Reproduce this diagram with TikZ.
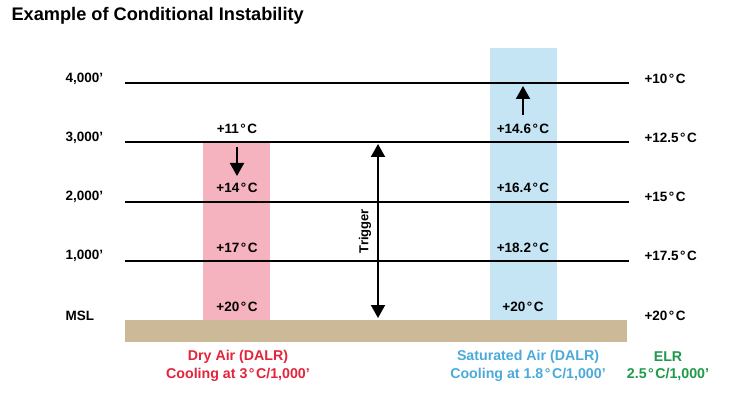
\documentclass[tikz,border=0pt]{standalone}
\usepackage{fontspec}
\setmainfont{Liberation Sans}
\usetikzlibrary{arrows.meta}
\definecolor{pinkcol}{HTML}{F4B3BE}
\definecolor{bluecol}{HTML}{C6E5F4}
\definecolor{groundcol}{HTML}{CBB997}
\definecolor{redtxt}{HTML}{E3243B}
\definecolor{bluetxt}{HTML}{4CAADA}
\definecolor{greentxt}{HTML}{1E9A4A}
\newcommand{\dg}[1]{#1\kern1.5pt°\kern1.5pt C}
\tikzset{
  lvl/.style={line width=1.9pt},
  alt/.style={anchor=west, font=\fontsize{13.5}{15}\selectfont\bfseries},
  elr/.style={anchor=west, font=\fontsize{13.5}{15}\selectfont\bfseries},
  tmp/.style={font=\fontsize{13.5}{15}\selectfont\bfseries},
  captxt/.style={font=\fontsize{14.2}{17.5}\selectfont\bfseries, align=center},
  arr/.style={line width=1.9pt, -{Triangle[width=14pt,length=13pt]}},
  darr/.style={line width=1.9pt, {Triangle[width=14pt,length=13pt]}-{Triangle[width=14pt,length=13pt]}},
}
\begin{document}
\begin{tikzpicture}[x=1pt,y=-1pt]
\useasboundingbox (0,0) rectangle (755,398);
\fill[white] (0,0) rectangle (755,398);
% title
\node[anchor=west, font=\fontsize{18.2}{20}\selectfont\bfseries] (title) at (8,16) {Example of Conditional Instability};
% columns
\fill[pinkcol] (203,142) rectangle (270,320);
\fill[bluecol] (490,48) rectangle (557,320);
% ground
\fill[groundcol] (125,320) rectangle (627,342);
% level lines
\coordinate (l4a) at (125,83); \coordinate (l4b) at (629,83);
\coordinate (l3a) at (125,142); \coordinate (l3b) at (629,142);
\coordinate (l2a) at (125,202); \coordinate (l2b) at (629,202);
\coordinate (l1a) at (125,261); \coordinate (l1b) at (629,261);
\draw[lvl] (l4a) -- (l4b);
\draw[lvl] (l3a) -- (l3b);
\draw[lvl] (l2a) -- (l2b);
\draw[lvl] (l1a) -- (l1b);
% altitude labels
\node[alt] (a4) at (62,79) {4,000’};
\node[alt] (a3) at (62,138) {3,000’};
\node[alt] (a2) at (62,197) {2,000’};
\node[alt] (a1) at (62,256) {1,000’};
\node[alt] (a0) at (62,316) {MSL};
% ELR labels
\node[elr] (e4) at (641,79) {\dg{+10}};
\node[elr] (e3) at (641,138) {\dg{+12.5}};
\node[elr] (e2) at (641,197) {\dg{+15}};
\node[elr] (e1) at (641,256) {\dg{+17.5}};
\node[elr] (e0) at (641,316) {\dg{+20}};
% dry column temps
\node[tmp] (d3) at (237,129) {\dg{+11}};
\node[tmp] (d2) at (237,188) {\dg{+14}};
\node[tmp] (d1) at (237,248) {\dg{+17}};
\node[tmp] (d0) at (237,307) {\dg{+20}};
% saturated column temps
\node[tmp] (s3) at (523,129) {\dg{+14.6}};
\node[tmp] (s2) at (523,188) {\dg{+16.4}};
\node[tmp] (s1) at (523,248) {\dg{+18.2}};
\node[tmp] (s0) at (523,307) {\dg{+20}};
% arrows
\coordinate (dA) at (237,147); \coordinate (dB) at (237,176);
\draw[arr] (dA) -- (dB);
\coordinate (uA) at (523,115); \coordinate (uB) at (523,86);
\draw[arr] (uA) -- (uB);
\coordinate (tA) at (378,318); \coordinate (tB) at (378,144);
\draw[darr] (tA) -- (tB);
\node[rotate=90, font=\fontsize{13}{15}\selectfont\bfseries] (trig) at (365,231) {Trigger};
% captions
\node[captxt, text=redtxt] (c1) at (238,366) {Dry Air (DALR)\\Cooling at \dg{3}/1,000’};
\node[captxt, text=bluetxt] (c2) at (528,366) {Saturated Air (DALR)\\Cooling at \dg{1.8}/1,000’};
\node[captxt, text=greentxt] (c3) at (668,366) {ELR\\\dg{2.5}/1,000’};
\end{tikzpicture}
\end{document}
